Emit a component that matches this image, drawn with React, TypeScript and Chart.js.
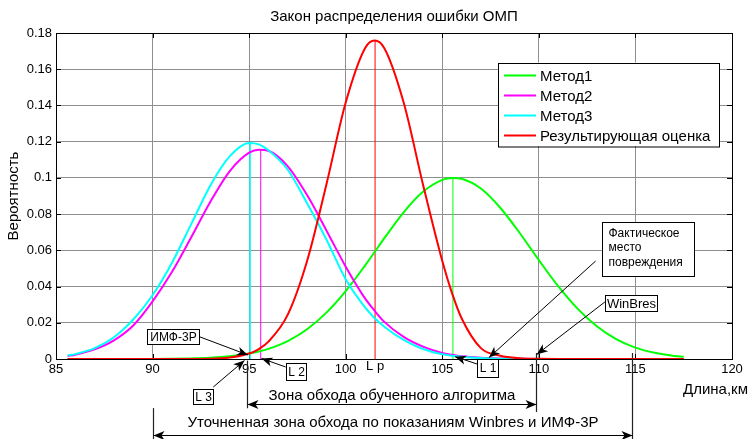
import React, { useEffect, useRef } from 'react';
import { Chart, registerables } from 'chart.js';

Chart.register(...registerables);

// ---- data ----
const X_KM = [85.6, 86, 87, 88, 89, 90, 91, 92, 93, 94, 95, 95.5, 96, 97, 98, 99, 100, 101, 101.5, 102, 103, 104, 105, 105.5, 106, 107, 108, 109, 110, 111, 112, 113, 114, 115, 116, 117, 117.5];

const METHOD1 = [0, 0, 0, 0, 0, 0, 0.0001, 0.0003, 0.0007, 0.0015, 0.0030, 0.0041, 0.0056, 0.0099, 0.0164, 0.0256, 0.0375, 0.0516, 0.0591, 0.0667, 0.0810, 0.0923, 0.0989, 0.1000, 0.0995, 0.0941, 0.0835, 0.0697, 0.0546, 0.0402, 0.0278, 0.0181, 0.0110, 0.0063, 0.0034, 0.0017, 0.0012];
const METHOD2 = [0.0017, 0.0024, 0.0053, 0.0103, 0.0185, 0.0318, 0.0480, 0.0672, 0.0870, 0.1038, 0.1139, 0.1156, 0.1150, 0.1064, 0.0905, 0.0710, 0.0510, 0.0335, 0.0266, 0.0205, 0.0122, 0.0068, 0.0033, 0.0023, 0.0015, 0.0007, 0.0003, 0.0001, 0, 0, 0, 0, 0, 0, 0, 0, 0];
const METHOD3 = [0.0019, 0.0027, 0.0060, 0.0120, 0.0218, 0.0352, 0.0530, 0.0745, 0.0960, 0.1120, 0.1193, 0.1185, 0.1153, 0.1045, 0.0860, 0.0660, 0.0440, 0.0285, 0.0225, 0.0178, 0.0105, 0.0055, 0.0026, 0.0018, 0.0012, 0.0005, 0.0002, 0.0001, 0, 0, 0, 0, 0, 0, 0, 0, 0];
const RESULT = [0, 0, 0, 0, 0, 0, 0, 0, 0.0001, 0.0008, 0.0030, 0.0055, 0.0096, 0.0245, 0.0541, 0.0964, 0.1416, 0.1716, 0.1758, 0.1716, 0.1416, 0.0964, 0.0541, 0.0365, 0.0225, 0.0060, 0.0018, 0.0004, 0.0001, 0, 0, 0, 0, 0, 0, 0, 0];

const SERIES_NAMES = ['Метод1', 'Метод2', 'Метод3', 'Результирующая оценка'];
const SERIES_COLORS = ['#00ff00', '#ff00ff', '#00ffff', '#ff0000'];

// peak markers (x of maximum, height) for Метод1, Метод2, Метод3, result
const PEAK_X = [105.55, 95.6, 95.05, 101.52];
const PEAK_Y = [0.1, 0.1157, 0.1195, 0.1758];

const X_TICKS = [85, 90, 95, 100, 105, 110, 115, 120];
const X_TICK_LABELS = ['85', '90', '95', '100', '105', '110', '115', '120'];
const Y_TICKS = [0, 0.02, 0.04, 0.06, 0.08, 0.1, 0.12, 0.14, 0.16, 0.18];
const Y_TICK_LABELS = ['0', '0.02', '0.04', '0.06', '0.08', '0.1', '0.12', '0.14', '0.16', '0.18'];

const TITLE = 'Закон распределения ошибки ОМП';
const X_TITLE = 'Длина,км';
const Y_TITLE = 'Вероятность';
const LP_LABEL = 'L p';

// callouts: text, box centre, arrow start and arrow tip in data units
const CALLOUTS = [
  { text: ['ИМФ-3Р'], box: [91.05, 0.0123], w: 52, h: 15, size: 12, from: [92.4, 0.0124], to: [94.94, 0.0022] },
  { text: ['L 3'], box: [92.6, -0.0208], w: 20, h: 15, size: 12, from: [93.14, -0.0155], to: [94.76, -0.0008] },
  { text: ['L 2'], box: [97.42, -0.0068], w: 20, h: 17, size: 12, from: [96.89, -0.0044], to: [95.64, 0.0003] },
  { text: ['L 1'], box: [107.32, -0.0048], w: 21, h: 18, size: 12, from: [106.81, -0.0028], to: [105.66, 0.0013] },
  { text: ['Фактическое', 'место', 'повреждения'], box: [115.65, 0.0608], w: 92, h: 54, size: 12, from: [112.94, 0.0541], to: [107.42, 0.0008], left: true },
  { text: ['WinBres'], box: [114.78, 0.0309], w: 52, h: 16, size: 13, from: [113.42, 0.0315], to: [109.89, 0.0025] },
];

const ZONES = [
  { text: 'Зона обхода обученного алгоритма', from: 94.87, to: 109.84, y: -0.0251, textY: -0.0204 },
  { text: 'Уточненная зона обхода по показаниям Winbres и ИМФ-3Р', from: 90.01, to: 114.81, y: -0.042, textY: -0.0353 },
];
const LEADERS = [
  { x: 94.87, y1: -0.0009, y2: -0.0272 },
  { x: 109.84, y1: 0.0033, y2: -0.0293 },
  { x: 90.01, y1: -0.0271, y2: -0.06 },
  { x: 114.81, y1: 0.0033, y2: -0.06 },
];

const FONT = "'Liberation Sans', Arial, Helvetica, sans-serif";

function arrowHead(ctx: CanvasRenderingContext2D, x1: number, y1: number, x2: number, y2: number) {
  const a = Math.atan2(y2 - y1, x2 - x1);
  ctx.save();
  ctx.translate(x2, y2);
  ctx.rotate(a);
  ctx.beginPath();
  ctx.moveTo(0, 0);
  ctx.lineTo(-11, -4.5);
  ctx.lineTo(-8, 0);
  ctx.lineTo(-11, 4.5);
  ctx.closePath();
  ctx.fill();
  ctx.restore();
}

const overlay = {
  id: 'overlay',
  beforeDatasetsDraw(chart: any) {
    const { ctx, chartArea: a, scales } = chart;
    const xs = scales.x, ys = scales.y;
    ctx.save();
    ctx.strokeStyle = '#000';
    ctx.lineWidth = 1;
    ctx.strokeRect(a.left + 0.5, a.top + 0.5, a.right - a.left, a.bottom - a.top);
    ctx.beginPath();
    X_TICKS.forEach((v) => {
      const p = Math.round(xs.getPixelForValue(v)) + 0.5;
      ctx.moveTo(p, a.bottom);
      ctx.lineTo(p, a.bottom - 5);
      ctx.moveTo(p, a.top);
      ctx.lineTo(p, a.top + 5);
    });
    Y_TICKS.forEach((v) => {
      const p = Math.round(ys.getPixelForValue(v)) + 0.5;
      ctx.moveTo(a.left, p);
      ctx.lineTo(a.left + 5, p);
      ctx.moveTo(a.right, p);
      ctx.lineTo(a.right - 5, p);
    });
    ctx.stroke();
    ctx.restore();
  },
  afterDraw(chart: any) {
    const { ctx, chartArea: a, scales } = chart;
    const xs = scales.x, ys = scales.y;
    const px = (v: number) => xs.getPixelForValue(v);
    const py = (v: number) => ys.getPixelForValue(v);
    ctx.save();
    ctx.fillStyle = '#000';

    // title
    ctx.font = `15px ${FONT}`;
    ctx.textAlign = 'center';
    ctx.textBaseline = 'middle';
    ctx.fillText(TITLE, (a.left + a.right) / 2, a.top - 16);

    // y title
    ctx.save();
    ctx.translate(14, (a.top + a.bottom) / 2);
    ctx.rotate(-Math.PI / 2);
    ctx.fillText(Y_TITLE, 0, 0);
    ctx.restore();

    // x title
    ctx.textAlign = 'left';
    ctx.fillText(X_TITLE, a.right - 49, a.bottom + 31);

    // L p label
    ctx.font = `13px ${FONT}`;
    ctx.textAlign = 'center';
    ctx.textBaseline = 'top';
    ctx.fillText(LP_LABEL, px(PEAK_X[3]), a.bottom + 1);

    // legend
    const lw = 221, lh = 83.5;
    const lx = a.right - 13 - lw, ly = a.top + 29.5;
    ctx.fillStyle = '#fff';
    ctx.fillRect(lx, ly, lw, lh);
    ctx.strokeStyle = '#000';
    ctx.lineWidth = 1;
    ctx.strokeRect(Math.round(lx) + 0.5, Math.round(ly) + 0.5, lw, lh);
    ctx.font = `15px ${FONT}`;
    ctx.textAlign = 'left';
    ctx.textBaseline = 'middle';
    SERIES_NAMES.forEach((name, i) => {
      const yy = ly + 13 + i * 20;
      ctx.strokeStyle = SERIES_COLORS[i];
      ctx.lineWidth = 2;
      ctx.beginPath();
      ctx.moveTo(lx + 6, yy);
      ctx.lineTo(lx + 38, yy);
      ctx.stroke();
      ctx.fillStyle = '#000';
      ctx.fillText(name, lx + 42, yy + 1);
    });

    // callouts
    CALLOUTS.forEach((c) => {
      const fx = px(c.from[0]), fy = py(c.from[1]);
      const tx = px(c.to[0]), ty = py(c.to[1]);
      ctx.strokeStyle = '#000';
      ctx.fillStyle = '#000';
      ctx.lineWidth = 1;
      ctx.beginPath();
      ctx.moveTo(fx, fy);
      ctx.lineTo(tx, ty);
      ctx.stroke();
      arrowHead(ctx, fx, fy, tx, ty);
      const bx = Math.round(px(c.box[0]) - c.w / 2) + 0.5;
      const by = Math.round(py(c.box[1]) - c.h / 2) + 0.5;
      ctx.fillStyle = '#fff';
      ctx.fillRect(bx, by, c.w, c.h);
      ctx.strokeStyle = '#000';
      ctx.strokeRect(bx, by, c.w, c.h);
      ctx.fillStyle = '#000';
      ctx.font = `${c.size}px ${FONT}`;
      ctx.textBaseline = 'middle';
      const n = c.text.length;
      c.text.forEach((t, i) => {
        const yy = by + c.h / 2 + (i - (n - 1) / 2) * 14.5 + (n > 1 ? -1.5 : 0.5);
        if (c.left) {
          ctx.textAlign = 'left';
          ctx.fillText(t, bx + 6, yy);
        } else {
          ctx.textAlign = 'center';
          ctx.fillText(t, bx + c.w / 2, yy);
        }
      });
    });

    // leader lines
    ctx.strokeStyle = '#222';
    ctx.lineWidth = 1.2;
    LEADERS.forEach((l) => {
      const x = Math.round(px(l.x)) + 0.5;
      ctx.beginPath();
      ctx.moveTo(x, py(l.y1));
      ctx.lineTo(x, py(l.y2));
      ctx.stroke();
    });

    // zones
    ZONES.forEach((z) => {
      const x1 = Math.round(px(z.from)) + 0.5, x2 = Math.round(px(z.to)) + 0.5;
      const y = Math.round(py(z.y)) + 0.5;
      ctx.strokeStyle = '#000';
      ctx.fillStyle = '#000';
      ctx.lineWidth = 1;
      ctx.beginPath();
      ctx.moveTo(x1, y);
      ctx.lineTo(x2, y);
      ctx.stroke();
      arrowHead(ctx, x2, y, x1, y);
      arrowHead(ctx, x1, y, x2, y);
      ctx.font = `15px ${FONT}`;
      ctx.textAlign = 'center';
      ctx.textBaseline = 'middle';
      ctx.fillText(z.text, (x1 + x2) / 2, py(z.textY));
    });

    ctx.restore();
  },
};

function pts(ys: number[]) {
  return X_KM.map((x, i) => ({ x, y: ys[i] }));
}

export default function App() {
  const ref = useRef<HTMLCanvasElement>(null);
  useEffect(() => {
    const canvas = ref.current;
    if (!canvas) return;
    const series = [METHOD1, METHOD2, METHOD3, RESULT];
    const orders = [4, 3, 2, 1];
    const datasets: any[] = series.map((s, i) => ({
      label: SERIES_NAMES[i],
      data: pts(s),
      borderColor: SERIES_COLORS[i],
      backgroundColor: SERIES_COLORS[i],
      borderWidth: 2,
      pointRadius: 0,
      fill: false,
      cubicInterpolationMode: 'monotone',
      order: orders[i],
    }));
    PEAK_X.forEach((xv, i) => {
      datasets.push({
        label: 'peak' + i,
        data: [{ x: xv, y: 0 }, { x: xv, y: PEAK_Y[i] }],
        borderColor: SERIES_COLORS[i],
        borderWidth: i === 2 ? 1.5 : 1,
        pointRadius: 0,
        fill: false,
        order: 5,
      });
    });
    const chart = new Chart(canvas, {
      type: 'line',
      data: { datasets },
      plugins: [overlay],
      options: {
        responsive: false,
        animation: false,
        devicePixelRatio: 1,
        events: [],
        layout: { padding: { left: 0, top: 33, right: 16, bottom: 0 } },
        plugins: { legend: { display: false }, tooltip: { enabled: false }, title: { display: false } },
        scales: {
          x: {
            type: 'linear',
            min: 85,
            max: 120,
            afterBuildTicks: (s: any) => { s.ticks = X_TICKS.map((v) => ({ value: v })); },
            afterFit: (s: any) => { s.height = 80; },
            ticks: {
              callback: (_v: any, i: number) => X_TICK_LABELS[i],
              font: { family: FONT, size: 13 },
              color: '#000',
              padding: 3,
              maxRotation: 0,
              autoSkip: false,
            },
            grid: { color: '#8f8f8f', lineWidth: 1, drawTicks: false },
            border: { display: false },
          },
          y: {
            type: 'linear',
            min: 0,
            max: 0.18,
            afterBuildTicks: (s: any) => { s.ticks = Y_TICKS.map((v) => ({ value: v })); },
            afterFit: (s: any) => { s.width = 56; },
            ticks: {
              callback: (_v: any, i: number) => Y_TICK_LABELS[i],
              font: { family: FONT, size: 13 },
              color: '#000',
              padding: 4,
              autoSkip: false,
            },
            grid: { color: '#8f8f8f', lineWidth: 1, drawTicks: false },
            border: { display: false },
          },
        },
      } as any,
    });
    return () => chart.destroy();
  }, []);
  return (
    <div style={{ position: 'fixed', left: 0, top: 0, width: 748, height: 439, background: '#fff' }}>
      <canvas ref={ref} width={748} height={439} style={{ display: 'block', width: 748, height: 439 }} />
    </div>
  );
}
